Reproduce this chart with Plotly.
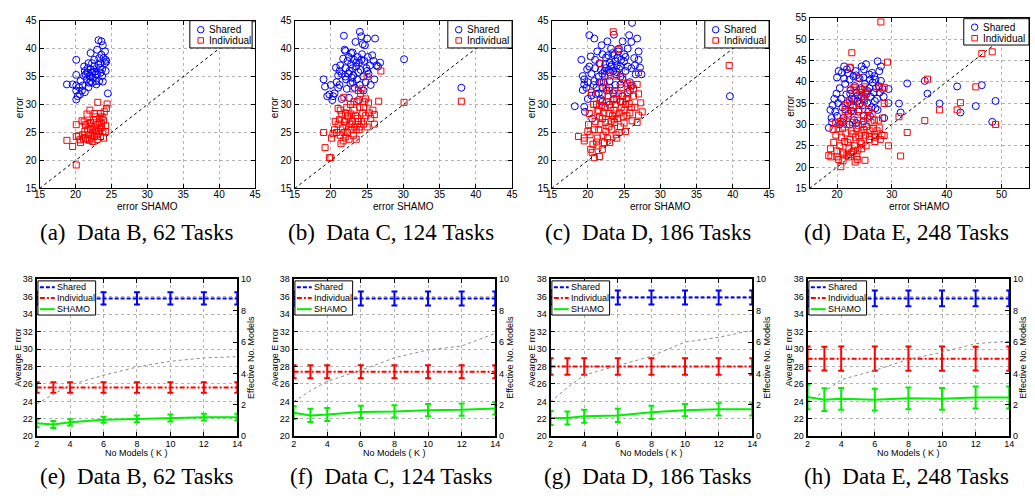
import plotly.graph_objects as go

W, H = 1035, 496
SANS = "Liberation Sans, Arial, Helvetica, sans-serif"
SERIF = "Liberation Serif, Times New Roman, serif"
BLUE, RED, GREEN, GRAY = "#0000ff", "#ff0000", "#00f000", "#8c8c8c"

# ---------------- top row: (error SHAMO, error) pairs ----------------
A_SHARED = [(18.8,33.6),(19.6,33.6),(20.1,38.0),(20.1,35.3),(20.1,33.4),(20.1,32.5),(20.1,30.9),(20.6,31.8),
            (20.7,34.2),(20.9,32.5),(21.0,33.4),(21.2,36.8),(21.3,36.0),(21.3,32.2),(21.4,35.4),(21.7,36.5),
            (21.8,37.4),(22.0,35.1),(22.1,36.3),(22.1,39.2),(22.3,37.4),(22.3,35.7),(22.4,34.8),(22.6,36.8),
            (22.7,35.9),(22.8,34.2),(22.9,33.6),(23.0,39.8),(23.2,41.5),(23.3,38.3),(23.4,36.6),(23.5,35.7),
            (23.6,41.3),(23.6,38.9),(23.7,35.1),(23.8,34.1),(23.8,40.6),(23.9,38.3),(24.1,37.4),(24.2,38.0),
            (24.3,37.7),(24.5,32.0),(23.5,37.4),(21.9,33.9),(21.6,34.5),(22.6,38.0),(23.0,35.4),(23.7,36.3),
            (21.8,33.1),(20.5,33.1),(22.3,33.9),(23.3,34.2),(21.2,35.1),(22.1,34.2),(22.8,35.4),(24.2,36.0),
            (24.1,39.5),(22.4,35.9),(21.7,35.7),(23.2,37.1),(20.3,31.5)]
A_INDIV = [(18.8,23.6),(19.6,22.5),(20.1,19.2),(20.1,26.4),(20.1,24.3),(20.4,24.4),(20.6,23.7),(20.7,23.2),
           (20.9,27.1),(21.0,24.6),(21.2,26.9),(21.3,25.2),(21.4,23.9),(21.6,28.3),(21.7,23.8),(21.8,24.6),
           (21.9,26.6),(22.0,29.0),(22.1,25.5),(22.2,24.0),(22.3,26.0),(22.4,24.9),(22.5,27.2),(22.6,24.3),
           (22.7,25.6),(22.8,27.8),(22.9,24.6),(23.0,26.4),(23.1,30.4),(23.2,25.2),(23.3,26.9),(23.4,25.8),
           (23.5,28.4),(23.5,24.3),(23.6,26.6),(23.7,27.8),(23.8,25.2),(23.9,24.0),(23.9,27.2),(24.0,28.7),
           (24.2,26.2),(24.3,29.3),(24.4,30.1),(23.6,25.9),(22.8,25.2),(22.1,26.8),(21.7,25.5),(21.1,23.9),
           (23.0,23.7),(22.4,23.4),(23.4,27.5),(24.2,25.2),(21.9,23.6),(21.4,26.4),(22.6,28.4)]

B_SHARED = [(19.0,34.5),(19.2,33.2),(19.5,31.5),(19.8,31.8),(20.0,33.5),(20.2,30.8),(20.3,31.5),(20.5,32.0),
            (20.7,36.6),(20.8,34.0),(21.0,35.2),(21.0,33.0),(21.2,33.5),(21.3,37.0),(21.5,31.0),(21.5,35.5),
            (21.7,38.2),(21.8,42.3),(21.9,39.8),(22.0,39.6),(22.0,36.5),(22.1,34.5),(22.2,32.8),(22.3,37.8),
            (22.4,35.5),(22.5,38.5),(22.6,36.0),(22.7,33.8),(22.8,37.2),(22.9,34.8),(23.0,39.3),(23.0,36.5),
            (23.1,35.2),(23.2,38.0),(23.3,33.0),(23.4,41.2),(23.5,36.8),(23.6,34.5),(23.7,38.5),(23.8,35.8),
            (23.9,37.5),(24.0,43.0),(24.0,33.5),(24.1,36.2),(24.2,42.2),(24.3,39.0),(24.4,40.8),(24.5,35.0),
            (24.6,37.8),(24.7,40.6),(24.8,34.0),(24.9,36.5),(25.0,41.8),(25.1,38.5),(25.2,35.5),(25.4,37.0),
            (25.5,33.5),(25.7,38.8),(25.9,37.8),(26.0,34.5),(26.1,41.8),(26.3,37.0),(26.5,36.8),(26.8,37.5),
            (30.1,38.1),(38.0,33.0),(22.5,31.2),(23.8,30.8),(21.2,36.0),(22.0,35.0),(23.0,34.0),(24.5,32.5),
            (25.0,36.0),(23.5,37.5),(22.8,39.2),(24.2,38.0)]
B_INDIV = [(19.0,25.0),(19.2,22.3),(19.8,20.5),(20.0,20.5),(20.1,24.0),(20.3,24.8),(20.5,25.5),(20.8,25.0),
           (21.0,29.3),(21.0,26.5),(21.2,27.3),(21.3,24.5),(21.4,23.0),(21.5,28.2),(21.6,25.8),(21.7,23.5),
           (21.8,31.3),(21.9,27.0),(22.0,24.2),(22.1,26.3),(22.2,29.5),(22.3,25.0),(22.4,27.8),(22.5,23.8),
           (22.6,26.5),(22.7,30.0),(22.8,28.3),(22.9,25.5),(23.0,32.8),(23.0,27.0),(23.1,24.5),(23.2,29.0),
           (23.3,26.0),(23.4,28.0),(23.5,23.8),(23.6,30.5),(23.7,27.5),(23.8,32.5),(23.9,25.5),(24.0,29.5),
           (24.1,32.0),(24.2,27.0),(24.3,32.8),(24.4,28.5),(24.5,26.5),(24.6,30.5),(24.8,28.0),(25.0,35.0),
           (25.0,26.0),(25.2,30.3),(25.5,27.5),(25.8,29.0),(26.0,28.2),(26.0,26.5),(26.6,30.6),(26.9,36.0),
           (30.1,30.4),(38.0,30.6),(21.3,29.0),(22.0,28.5),(22.8,26.5),(23.5,25.5),(24.0,26.0),(23.2,30.5),
           (24.5,29.5),(21.8,25.0),(20.6,27.0),(22.3,28.0),(23.8,27.0),(24.8,31.0),(25.3,28.5)]

C_SHARED = [(18.2,29.7),(19.1,38.0),(19.3,35.1),(19.3,32.6),(19.5,33.6),(19.5,29.6),(19.6,28.7),(19.9,36.3),
            (20.2,42.4),(20.4,38.6),(20.5,31.6),(20.6,27.5),(20.9,41.8),(20.9,34.2),(21.3,39.5),(21.6,37.4),
            (21.9,40.6),(22.0,33.1),(22.3,36.0),(22.5,38.4),(22.7,41.3),(23.0,34.2),(23.2,40.0),(23.3,37.1),
            (23.6,38.8),(23.6,42.5),(23.9,35.4),(24.1,38.3),(24.3,40.0),(24.5,36.8),(24.5,33.6),(24.8,41.3),
            (25.0,37.7),(25.2,36.0),(25.5,40.0),(25.7,42.4),(25.8,32.5),(26.0,41.2),(26.1,44.6),(26.4,38.3),
            (26.6,35.4),(26.8,41.8),(27.0,39.5),(27.2,36.6),(27.4,35.4),(26.1,33.4),(25.5,32.2),(21.8,31.0),
            (21.1,31.9),(23.6,31.0),(39.6,31.5),(22.0,35.5),(22.5,36.5),(23.0,37.5),(23.5,36.0),(24.0,37.0),
            (24.5,35.0),(23.0,35.8),(22.8,38.8),(21.5,35.0),(21.0,36.5),(20.5,35.5),(20.0,34.0),(21.2,33.0),
            (22.2,34.0),(23.8,33.5),(24.8,34.5),(25.5,36.8),(25.0,39.0),(24.2,39.5),(23.4,39.2),(22.0,39.0),
            (21.0,38.0),(20.2,36.8),(19.8,33.0),(22.6,32.5),(23.5,32.0),(24.8,31.5),(26.0,36.5),(25.8,34.0),
            (21.8,36.2),(22.4,37.2),(23.2,36.8),(24.0,35.8),(24.6,38.0),(25.2,38.5),(20.8,33.5),(21.5,32.0),
            (22.0,30.5),(23.0,30.0),(24.5,30.5),(26.5,37.0),(27.0,38.0),(20.0,31.0),(19.5,34.5),(21.6,34.0),
            (23.0,33.0),(22.9,36.2),(23.8,37.8),(22.3,35.0),(24.3,36.4)]
C_INDIV = [(18.7,24.3),(19.5,24.0),(19.5,23.5),(20.0,25.2),(20.1,26.4),(20.2,28.4),(20.4,22.0),(20.6,21.4),
           (20.7,22.9),(20.9,25.5),(20.5,32.2),(21.2,30.1),(21.3,24.0),(20.9,20.5),(21.6,27.8),(21.7,30.7),
           (21.7,37.3),(21.9,33.9),(23.5,43.0),(24.2,39.8),(23.9,35.1),(22.8,35.1),(24.8,34.9),(27.0,35.7),
           (25.9,33.4),(26.8,33.6),(27.0,31.9),(25.5,31.9),(27.5,28.7),(27.0,28.1),(26.1,27.1),(25.0,26.7),
           (23.9,24.6),(24.0,24.0),(21.4,22.6),(22.3,23.2),(22.0,22.0),(21.6,20.7),(39.5,37.0),(21.5,25.5),
           (21.8,26.5),(22.0,27.5),(22.2,28.5),(22.4,29.5),(22.6,30.5),(22.8,31.5),(23.0,32.5),(23.2,27.0),
           (23.4,28.0),(23.6,29.0),(23.8,30.0),(24.0,31.0),(24.2,32.0),(24.4,28.5),(24.6,29.5),(24.8,30.5),
           (25.0,29.0),(25.2,30.0),(25.4,28.0),(22.1,24.5),(22.5,25.2),(22.9,26.0),(23.3,25.5),(23.7,26.8),
           (24.1,27.5),(24.5,26.0),(24.9,27.8),(25.3,31.0),(25.7,30.2),(26.0,29.5),(26.3,31.5),(21.0,27.0),
           (21.3,28.8),(21.9,29.8),(22.4,26.8),(23.1,29.5),(23.5,30.8),(24.3,25.0),(22.7,24.0),(23.0,23.2),
           (21.2,23.3),(20.3,24.6),(22.0,31.8),(23.7,32.5),(24.6,33.0),(25.5,33.8),(26.3,32.8),(22.5,33.0),
           (20.8,30.0),(21.5,29.0),(23.9,28.3),(24.7,31.5),(25.8,28.5),(26.5,29.5),(27.3,30.3),(26.8,26.8),
           (25.2,25.2),(22.9,28.4),(23.6,27.4)]

D_SHARED = [(31.3,34.9),(31.6,32.8),(32.8,39.6),(36.0,40.2),(36.5,37.2),(38.7,34.9),(41.9,38.9),(42.5,32.8),
            (45.3,34.3),(46.4,39.2),(48.3,30.6),(48.9,35.5),(18.5,29.2),(18.8,33.4),(19.1,30.5),(19.7,33.0),
            (20.0,41.0),(19.9,37.2),(20.3,42.5),(20.9,42.1),(21.3,43.6),(21.8,42.9),(22.4,43.2),(23.0,41.3),
            (23.4,42.5),(24.5,43.6),(24.9,42.9),(25.3,44.1),(25.9,41.7),(26.4,42.1),(26.8,41.3),(27.4,44.8),
            (27.7,42.5),(28.0,43.6),(28.0,40.2),(28.3,38.3),(29.4,38.3),(29.4,35.0),(28.6,31.5),(27.4,33.4),
            (20.5,38.5),(20.8,36.0),(21.0,34.0),(21.2,31.5),(21.5,39.5),(21.7,37.0),(21.9,35.0),(22.1,32.5),
            (22.3,40.5),(22.5,38.0),(22.7,36.0),(22.9,34.0),(23.1,31.0),(23.3,39.0),(23.5,37.5),(23.7,35.5),
            (23.9,33.0),(24.1,40.8),(24.3,38.5),(24.5,36.5),(24.7,34.5),(24.9,32.0),(25.1,39.5),(25.3,37.0),
            (25.5,35.0),(25.7,33.0),(25.9,38.5),(26.1,36.5),(26.3,34.0),(26.5,39.8),(26.7,37.5),(26.9,35.5),
            (27.1,38.5),(27.3,36.0),(27.6,39.0),(27.8,37.5),(20.2,35.0),(20.0,32.0),(19.5,36.0),(19.2,34.5),
            (21.3,40.8),(22.0,42.0),(23.5,41.5),(24.8,41.0),(26.0,40.5),(22.4,37.2),(23.0,35.8),(23.8,36.8),
            (24.2,34.8),(22.6,33.2),(21.5,33.5),(25.0,36.0),(25.6,37.8),(27.0,40.5),(28.5,36.5),(21.0,30.5),
            (22.3,30.0),(23.5,30.3),(24.8,30.8),(20.5,30.0),(19.0,31.5),(26.0,32.0),(27.0,33.8)]
D_INDIV = [(28.0,54.0),(22.7,46.8),(22.4,43.4),(29.2,44.6),(36.5,40.6),(32.8,28.1),(31.6,22.6),(31.3,31.8),
           (36.0,30.9),(38.7,33.4),(41.9,33.4),(42.5,35.1),(45.3,38.8),(46.4,46.6),(48.3,47.0),(48.9,30.0),
           (29.4,25.0),(28.6,27.4),(25.1,21.6),(20.7,20.1),(18.5,22.7),(18.8,24.3),(18.9,22.4),(19.4,25.8),
           (19.7,30.3),(20.0,22.4),(21.2,23.1),(22.1,22.4),(22.7,23.5),(23.3,21.2),(23.6,22.4),(24.5,24.3),
           (25.3,25.0),(25.9,26.5),(26.8,27.7),(27.7,29.2),(28.3,31.5),(28.6,34.9),(28.6,38.7),(27.7,38.7),
           (25.3,37.9),(25.0,38.8),(24.2,37.5),(23.9,40.9),(23.1,38.7),(22.4,38.3),(21.5,34.5),(22.4,34.5),
           (20.6,30.7),(20.5,25.0),(20.8,27.0),(21.0,29.0),(21.2,31.0),(21.4,26.0),(21.6,28.0),(21.8,30.0),
           (22.0,32.0),(22.2,24.5),(22.4,26.5),(22.6,28.5),(22.8,30.5),(23.0,33.0),(23.2,25.0),(23.4,27.0),
           (23.6,29.0),(23.8,31.0),(24.0,33.5),(24.2,26.0),(24.4,28.0),(24.6,30.0),(24.8,32.0),(25.0,35.5),
           (25.2,27.5),(25.4,29.5),(25.6,31.5),(25.8,33.5),(26.0,28.5),(26.2,30.5),(26.4,32.5),(26.6,29.0),
           (26.8,31.0),(27.0,27.0),(27.3,28.5),(27.6,31.0),(21.0,23.5),(21.8,22.8),(22.5,23.0),(23.0,23.8),
           (23.8,24.0),(24.5,25.5),(19.8,27.5),(20.2,29.0),(20.0,23.8),(21.5,33.0),(22.3,35.5),(23.2,36.0),
           (24.1,35.0),(24.9,36.5),(25.4,37.3),(23.5,38.0),(24.6,38.2),(22.9,27.8),(23.9,29.8),(24.9,28.8),
           (25.9,27.2),(26.9,26.0),(27.9,26.5),(28.2,27.5),(21.1,21.5),(20.3,21.8),(23.7,21.8),(19.3,28.8),
           (22.0,25.7),(24.0,27.3)]

TOP_CAPTIONS = ["(a)\u00a0\u00a0Data B, 62 Tasks", "(b)\u00a0\u00a0Data C, 124 Tasks",
                "(c)\u00a0\u00a0Data D, 186 Tasks", "(d)\u00a0\u00a0Data E, 248 Tasks"]

# ---------------- bottom row: average error vs number of models ----------------
K_MODELS = [2, 3, 4, 6, 8, 10, 12, 14]

E_SHARED = [35.8, 35.8, 35.8, 35.8, 35.8, 35.8, 35.8, 35.8]
E_SHARED_ERR = [0.7, 0.7, 0.7, 0.7, 0.7, 0.7, 0.7, 0.7]
E_INDIV = [25.6, 25.6, 25.6, 25.6, 25.6, 25.6, 25.6, 25.6]
E_INDIV_ERR = [0.6, 0.6, 0.6, 0.6, 0.6, 0.6, 0.6, 0.6]
E_SHAMO = [21.5, 21.35, 21.6, 21.9, 22.0, 22.1, 22.2, 22.2]
E_SHAMO_ERR = [0.45, 0.4, 0.35, 0.35, 0.4, 0.4, 0.4, 0.4]
E_EFFECTIVE = [2.07, 2.65, 3.27, 3.89, 4.41, 4.78, 4.99, 5.07]

F_SHARED = [35.8, 35.8, 35.8, 35.8, 35.8, 35.8, 35.8, 35.8]
F_SHARED_ERR = [0.8, 0.8, 0.8, 0.8, 0.8, 0.8, 0.8, 0.8]
F_INDIV = [27.4, 27.4, 27.4, 27.4, 27.4, 27.4, 27.4, 27.4]
F_INDIV_ERR = [0.75, 0.75, 0.75, 0.75, 0.75, 0.75, 0.75, 0.75]
F_SHAMO = [22.7, 22.4, 22.5, 22.8, 22.85, 23.0, 23.05, 23.2]
F_SHAMO_ERR = [0.75, 0.75, 0.75, 0.7, 0.7, 0.7, 0.7, 0.7]
F_EFFECTIVE = [2.2, 2.9, 3.5, 4.2, 5.0, 5.5, 5.75, 6.55]

G_SHARED = [35.9, 35.9, 35.9, 35.9, 35.9, 35.9, 35.9, 35.9]
G_SHARED_ERR = [0.8, 0.8, 0.8, 0.8, 0.8, 0.8, 0.8, 0.8]
G_INDIV = [28.0, 28.0, 28.0, 28.0, 28.0, 28.0, 28.0, 28.0]
G_INDIV_ERR = [0.95, 0.95, 0.95, 0.95, 0.95, 0.95, 0.95, 0.95]
G_SHAMO = [22.1, 22.1, 22.3, 22.4, 22.75, 23.0, 23.1, 23.1]
G_SHAMO_ERR = [0.8, 0.75, 0.75, 0.75, 0.75, 0.7, 0.7, 0.7]
G_EFFECTIVE = [2.2, 3.1, 3.9, 4.5, 5.1, 6.0, 6.3, 6.75]

H_SHARED = [35.8, 35.8, 35.8, 35.8, 35.8, 35.8, 35.8, 35.8]
H_SHARED_ERR = [0.9, 0.9, 0.9, 0.9, 0.9, 0.9, 0.9, 0.9]
H_INDIV = [28.9, 28.9, 28.9, 28.9, 28.9, 28.9, 28.9, 28.9]
H_INDIV_ERR = [1.4, 1.35, 1.4, 1.4, 1.4, 1.4, 1.35, 1.4]
H_SHAMO = [24.5, 24.2, 24.3, 24.2, 24.35, 24.3, 24.45, 24.45]
H_SHAMO_ERR = [1.4, 1.3, 1.25, 1.25, 1.25, 1.25, 1.25, 1.25]
H_EFFECTIVE = [2.2, 2.85, 3.6, 4.2, 4.9, 5.35, 5.9, 6.05]

BOTTOM_CAPTIONS = ["(e)\u00a0\u00a0Data B, 62 Tasks", "(f)\u00a0\u00a0Data C, 124 Tasks",
                   "(g)\u00a0\u00a0Data D, 186 Tasks", "(h)\u00a0\u00a0Data E, 248 Tasks"]


def px(x):
    return x / W


def py(y):
    return 1 - y / H


def axis_style(lw, fs, mirror="ticks", grid=True, standoff=0):
    return dict(showline=True, linecolor="black", linewidth=lw, mirror=mirror,
                ticks="inside", ticklen=4, tickwidth=1, tickcolor="black",
                tickfont=dict(family=SANS, size=fs, color="black"), ticklabelstandoff=standoff,
                showgrid=grid, gridcolor="#b4b4b4", griddash="dot", gridwidth=1,
                zeroline=False, fixedrange=True)


fig = go.Figure()
layout = dict(width=W, height=H, margin=dict(l=0, r=0, t=0, b=0),
              paper_bgcolor="white", plot_bgcolor="white", showlegend=False)
shapes, annotations = [], []


def text(x, y, s, size, angle=0, xanchor="center", family=SANS):
    annotations.append(dict(x=px(x), y=py(y), xref="paper", yref="paper", text=s,
                            showarrow=False, textangle=angle, xanchor=xanchor, yanchor="middle",
                            font=dict(family=family, size=size, color="black")))


def shape(**kw):
    kw.setdefault("xref", "paper")
    kw.setdefault("yref", "paper")
    kw.setdefault("layer", "above")
    shapes.append(kw)


# ---------------- top row ----------------
top_panels = [
    dict(sh=A_SHARED, ind=A_INDIV, xr=[15, 45], yr=[15, 45], xt=[15, 20, 25, 30, 35, 40, 45],
         yt=[15, 20, 25, 30, 35, 40, 45], box=(34, 15, 252, 187), leg=(186, 15, 249, 43), ly=(24.3, 35.3)),
    dict(sh=B_SHARED, ind=B_INDIV, xr=[15, 45], yr=[15, 45], xt=[15, 20, 25, 30, 35, 40, 45],
         yt=[15, 20, 25, 30, 35, 40, 45], box=(292, 15, 512, 187), leg=(447, 15, 512, 43), ly=(24.3, 35.3)),
    dict(sh=C_SHARED, ind=C_INDIV, xr=[15, 45], yr=[15, 45], xt=[15, 20, 25, 30, 35, 40, 45],
         yt=[15, 20, 25, 30, 35, 40, 45], box=(552, 15, 772, 187), leg=(707, 15, 772, 43), ly=(24.3, 35.3)),
    dict(sh=D_SHARED, ind=D_INDIV, xr=[15, 55], yr=[15, 55], xt=[20, 30, 40, 50],
         yt=[15, 20, 25, 30, 35, 40, 45, 50, 55], box=(813, 12, 1035, 187), leg=(969, 13, 1035, 40), ly=(21.7, 33.0)),
]

for i, p in enumerate(top_panels, start=1):
    sfx = "" if i == 1 else str(i)
    xa, ya = "x" + sfx, "y" + sfx
    x0, y0, x1, y1 = p["box"]
    layout["xaxis" + sfx] = dict(domain=[px(x0), px(x1)], anchor=ya, range=p["xr"], tickvals=p["xt"],
                                 **axis_style(1, 10, standoff=-3))
    layout["yaxis" + sfx] = dict(domain=[py(y1), py(y0)], anchor=xa, range=p["yr"], tickvals=p["yt"],
                                 **axis_style(1, 10))
    fig.add_trace(go.Scatter(x=[v[0] for v in p["sh"]], y=[v[1] for v in p["sh"]], mode="markers",
                             marker=dict(symbol="circle-open", size=7, color=BLUE, line=dict(width=1, color=BLUE)),
                             xaxis=xa, yaxis=ya, hoverinfo="skip"))
    fig.add_trace(go.Scatter(x=[v[0] for v in p["ind"]], y=[v[1] for v in p["ind"]], mode="markers",
                             marker=dict(symbol="square-open", size=6, color=RED, line=dict(width=1, color=RED)),
                             xaxis=xa, yaxis=ya, hoverinfo="skip"))
    fig.add_trace(go.Scatter(x=p["xr"], y=p["yr"], mode="lines",
                             line=dict(color="black", width=1, dash="3px,3px"),
                             xaxis=xa, yaxis=ya, hoverinfo="skip"))
    # axis labels
    text((x0 + x1) / 2, 205, "error SHAMO", 10)
    text(x0 - 20, (y0 + y1) / 2 + 3, "error", 10, angle=-90)
    # legend
    lx0, ly0, lx1, ly1 = p["leg"]
    shape(type="rect", x0=px(lx0), x1=px(lx1), y0=py(ly1), y1=py(ly0),
          fillcolor="white", line=dict(color="black", width=1))
    mx = lx0 + 11
    r = 3.3
    shape(type="circle", x0=px(mx - r), x1=px(mx + r), y0=py(p["ly"][0] + r), y1=py(p["ly"][0] - r),
          line=dict(color=BLUE, width=1))
    q = 2.8
    shape(type="rect", x0=px(mx - q), x1=px(mx + q), y0=py(p["ly"][1] + q), y1=py(p["ly"][1] - q),
          line=dict(color=RED, width=1))
    text(lx0 + 17, p["ly"][0], "Shared", 10, xanchor="left")
    text(lx0 + 17, p["ly"][1], "Individual", 10, xanchor="left")
    text([132, 390, 650, 911][i - 1], 232, TOP_CAPTIONS[i - 1], 23, family=SERIF)

# ---------------- bottom row ----------------
bottom_panels = [
    dict(sh=E_SHARED, she=E_SHARED_ERR, ind=E_INDIV, inde=E_INDIV_ERR, sm=E_SHAMO, sme=E_SHAMO_ERR,
         eff=E_EFFECTIVE, box=(31, 280, 234, 441), rl=248),
    dict(sh=F_SHARED, she=F_SHARED_ERR, ind=F_INDIV, inde=F_INDIV_ERR, sm=F_SHAMO, sme=F_SHAMO_ERR,
         eff=F_EFFECTIVE, box=(291, 280, 495, 441), rl=510),
    dict(sh=G_SHARED, she=G_SHARED_ERR, ind=G_INDIV, inde=G_INDIV_ERR, sm=G_SHAMO, sme=G_SHAMO_ERR,
         eff=G_EFFECTIVE, box=(551, 280, 755, 441), rl=770),
    dict(sh=H_SHARED, she=H_SHARED_ERR, ind=H_INDIV, inde=H_INDIV_ERR, sm=H_SHAMO, sme=H_SHAMO_ERR,
         eff=H_EFFECTIVE, box=(811, 280, 1015, 441), rl=1029),
]

for j, p in enumerate(bottom_panels):
    i = 5 + j
    r_i = 9 + j
    xa, ya, yr = "x%d" % i, "y%d" % i, "y%d" % r_i
    x0, y0, x1, y1 = p["box"]
    layout["xaxis%d" % i] = dict(domain=[px(x0), px(x1)], anchor=ya, range=[2, 14],
                                 tickvals=[2, 4, 6, 8, 10, 12, 14], **axis_style(2, 9, standoff=-2))
    layout["yaxis%d" % i] = dict(domain=[py(y1), py(y0)], anchor=xa, range=[20, 38],
                                 tickvals=[20, 22, 24, 26, 28, 30, 32, 34, 36, 38], **axis_style(2, 9, mirror=True))
    layout["yaxis%d" % r_i] = dict(overlaying=ya, side="right", anchor=xa, range=[0, 10],
                                   tickvals=[0, 2, 4, 6, 8, 10], **axis_style(2, 9, mirror=False, grid=False))
    err = lambda arr, c: dict(type="data", array=arr, color=c, thickness=2, width=3, visible=True)
    fig.add_trace(go.Scatter(x=K_MODELS, y=p["eff"], mode="lines", line=dict(color=GRAY, width=1, dash="dot"),
                             xaxis=xa, yaxis=yr, hoverinfo="skip"))
    fig.add_trace(go.Scatter(x=K_MODELS, y=p["sh"], mode="lines", error_y=err(p["she"], BLUE),
                             line=dict(color=BLUE, width=2, dash="4px,2px"), xaxis=xa, yaxis=ya, hoverinfo="skip"))
    fig.add_trace(go.Scatter(x=K_MODELS, y=p["ind"], mode="lines", error_y=err(p["inde"], RED),
                             line=dict(color=RED, width=2, dash="5px,2px,2px,2px"), xaxis=xa, yaxis=ya,
                             hoverinfo="skip"))
    fig.add_trace(go.Scatter(x=K_MODELS, y=p["sm"], mode="lines", error_y=err(p["sme"], GREEN),
                             line=dict(color=GREEN, width=2), xaxis=xa, yaxis=ya, hoverinfo="skip"))
    # axis labels
    text((x0 + x1) / 2, 458, "No Models ( K )", 9)
    text(x0 - 19, (y0 + y1) / 2, "Avearge E rror", 9, angle=-90)
    text(p["rl"], (y0 + y1) / 2, "Effective No. Models", 9, angle=-90)
    # legend
    lx0 = x0 + 1.3
    shape(type="rect", x0=px(lx0), x1=px(lx0 + 58.4), y0=py(316.7), y1=py(281.7),
          fillcolor="white", line=dict(color="black", width=1))
    rows = [(288.3, BLUE, "4px,2px", "Shared"), (299.3, RED, "5px,2px,2px,2px", "Individual"),
            (310.7, GREEN, "solid", "SHAMO")]
    for yy, col, dash, lab in rows:
        shape(type="line", x0=px(lx0 + 2), x1=px(lx0 + 17), y0=py(yy), y1=py(yy),
              line=dict(color=col, width=2, dash=dash))
        text(lx0 + 17, yy, lab, 9, xanchor="left")
    text([132, 390, 650, 911][j], 482, BOTTOM_CAPTIONS[j], 23, family=SERIF)

layout["shapes"] = shapes
layout["annotations"] = annotations
fig.update_layout(**layout)
fig.write_html("out.html", config={"displayModeBar": False},
               post_script="document.body.style.margin='0';document.body.style.overflow='hidden';")
